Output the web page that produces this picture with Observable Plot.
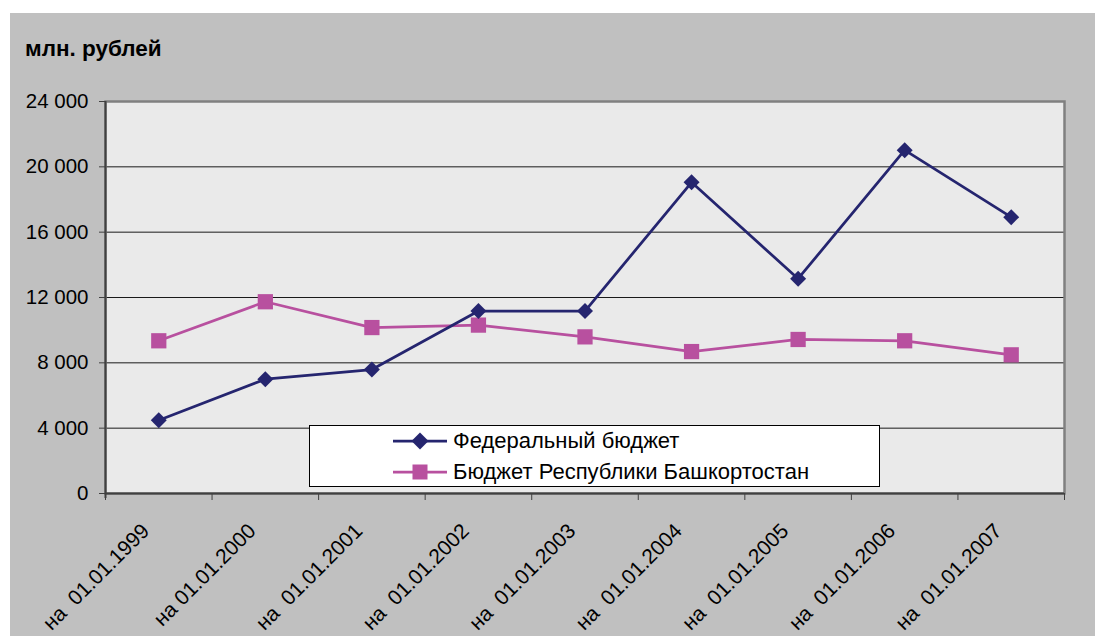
<!DOCTYPE html>
<html>
<head>
<meta charset="utf-8">
<script src="https://cdn.jsdelivr.net/npm/d3@7"></script>
<script src="https://cdn.jsdelivr.net/npm/@observablehq/plot@0.6"></script>
<style>
  html, body { margin: 0; padding: 0; background: #ffffff; }
  #wrap { position: relative; width: 1095px; height: 636px; overflow: hidden; font-family: "Liberation Sans", Arial, sans-serif; }
  #bg { position: absolute; left: 10px; top: 13px; right: 0; bottom: 0; background: #c0c0c0; }
  #chart { position: absolute; left: 0; top: 0; }
  #chart svg text { white-space: pre; }
  #title { position: absolute; left: 25px; top: 38px; font-size: 22.5px; line-height: 22px; font-weight: bold; color: #000; }
  #legend { position: absolute; left: 309px; top: 425px; width: 569px; height: 60px; background: #fff; border: 1px solid #000; }
  .row { position: absolute; left: 82px; height: 26px; display: flex; align-items: center; font-size: 22px; color: #000; white-space: nowrap; }
  .row svg { margin-right: 5px; }
</style>
</head>
<body>
<div id="wrap">
  <div id="bg"></div>
  <div id="chart"></div>
  <div id="title">млн. рублей</div>
  <div id="legend"></div>
</div>
<script>
// ---- data ----
const categories = ["на  01.01.1999", "на 01.01.2000", "на  01.01.2001", "на  01.01.2002", "на  01.01.2003",
                    "на  01.01.2004", "на  01.01.2005", "на  01.01.2006", "на  01.01.2007"];
const federal = [4490, 7000, 7590, 11170, 11170, 19050, 13150, 21020, 16920];
const bashkortostan = [9350, 11740, 10160, 10310, 9590, 8690, 9430, 9350, 8490];
const yTicks = [0, 4000, 8000, 12000, 16000, 20000, 24000];
const seriesNames = ["Федеральный бюджет", "Бюджет Республики Башкортостан"];
const colors = ["#25256f", "#b8509f"];

const rows = categories.map((label, i) => ({ i, label, fed: federal[i], bash: bashkortostan[i] }));
const n = categories.length;
const boundaries = d3.range(-0.5, n, 1);
const fmt = d => d3.format(",")(d).replace(/,/g, " ");

const chart = Plot.plot({
  width: 1095,
  height: 636,
  marginLeft: 105,
  marginRight: 31,
  marginTop: 101,
  marginBottom: 143,
  style: { background: "transparent", fontFamily: "'Liberation Sans', Arial, sans-serif", fontSize: "20px", color: "#000" },
  x: { domain: [-0.5, n - 0.5], axis: null },
  y: { domain: [0, 24000], axis: null },
  marks: [
    Plot.frame({ fill: "#eaeaea" }),
    Plot.ruleY(yTicks.slice(1, -1), { stroke: "#1a1a1a", strokeWidth: 1 }),
    Plot.frame({ stroke: "#808080", strokeWidth: 2.5 }),
    Plot.ruleX([-0.5], { stroke: "#404040", strokeWidth: 2, insetBottom: -5 }),
    Plot.ruleY([0], { stroke: "#404040", strokeWidth: 2 }),
    Plot.axisY({ ticks: yTicks, tickSize: 6, tickPadding: 11, tickFormat: fmt, fontSize: 20.5, stroke: "#404040", label: null }),
    Plot.axisX({ ticks: boundaries, tickSize: 7, tickFormat: () => "", stroke: "#404040", label: null }),
    Plot.line(rows, { x: "i", y: "bash", stroke: colors[1], strokeWidth: 2.75 }),
    Plot.dot(rows, { x: "i", y: "bash", symbol: "square", r: 8.6, fill: colors[1], stroke: "none" }),
    Plot.line(rows, { x: "i", y: "fed", stroke: colors[0], strokeWidth: 2.75 }),
    Plot.dot(rows, { x: "i", y: "fed", symbol: "diamond2", r: 7.2, fill: colors[0], stroke: "none" }),
    Plot.text(rows, { x: "i", y: () => 0, text: "label", rotate: -45, textAnchor: "end", dx: -13, dy: 34, fontSize: 21, fill: "#000" })
  ]
});
document.getElementById("chart").appendChild(chart);

// ---- legend ----
const legend = document.getElementById("legend");
const markerSvg = [
  `<svg width="56" height="20"><line x1="1" y1="10" x2="55" y2="10" stroke="${colors[0]}" stroke-width="2.75"/><rect x="22" y="4" width="12" height="12" fill="${colors[0]}" transform="rotate(45 28 10)"/></svg>`,
  `<svg width="56" height="20"><line x1="1" y1="10" x2="55" y2="10" stroke="${colors[1]}" stroke-width="2.75"/><rect x="20.5" y="2.5" width="15" height="15" fill="${colors[1]}"/></svg>`
];
seriesNames.forEach((name, k) => {
  const row = document.createElement("div");
  row.className = "row";
  row.style.top = (k === 0 ? 2 : 33) + "px";
  row.innerHTML = markerSvg[k] + `<span>${name}</span>`;
  legend.appendChild(row);
});
</script>
</body>
</html>
